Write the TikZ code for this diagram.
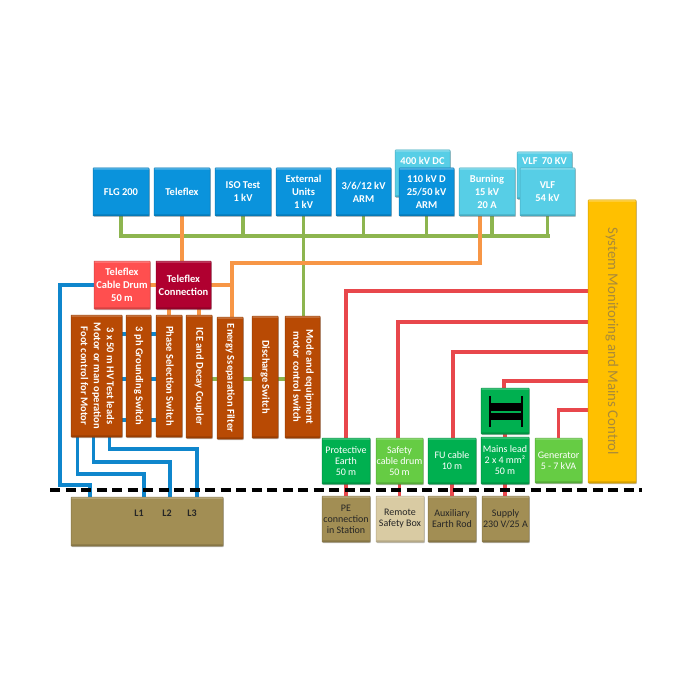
\documentclass[tikz,border=0pt]{standalone}
\usepackage{fontspec}
\usepackage{graphicx}
\setmainfont{Carlito}
\usetikzlibrary{shadows,backgrounds,calc}
\definecolor{cblue}{HTML}{0A93DC}
\definecolor{ccyan}{HTML}{57CEE6}
\definecolor{cbrown}{HTML}{B84A04}
\definecolor{cred}{HTML}{FF4F4F}
\definecolor{ccrim}{HTML}{B00030}
\definecolor{cyel}{HTML}{FFC000}
\definecolor{cgreen}{HTML}{00B050}
\definecolor{clime}{HTML}{66CC44}
\definecolor{colive}{HTML}{A28E54}
\definecolor{ctan}{HTML}{D9CBA3}
\definecolor{lgreen}{HTML}{8DB54F}
\definecolor{lorange}{HTML}{F79646}
\definecolor{lred}{HTML}{E8474C}
\definecolor{lcable}{HTML}{0F86CC}
\definecolor{csystxt}{HTML}{A98A3A}
\tikzset{
  bx/.style={draw=#1!82!black,line width=.5pt,fill=#1,rounded corners=.6pt,inner sep=0pt,align=center,
    drop shadow={shadow xshift=.8pt,shadow yshift=-1pt,opacity=.35,fill=black!70},
    path picture={
      \fill[white,opacity=.3] (path picture bounding box.north west) rectangle ([yshift=-1.6pt]path picture bounding box.north east);
      \fill[black,opacity=.16] (path picture bounding box.south west) rectangle ([yshift=1.6pt]path picture bounding box.south east);
    }},
  wtxt/.style={text=white,font=\bfseries\fontsize{10.5}{13}\selectfont},
  thintxt/.style={text=white,font=\fontsize{10}{11}\selectfont},
  darktxt/.style={text=black!85,font=\fontsize{10}{11}\selectfont},
  bluebox/.style={bx=cblue,wtxt},
  cyanbox/.style={bx=ccyan,wtxt},
  redbox/.style={bx=cred,wtxt},
  crimbox/.style={bx=ccrim,wtxt},
  brownbox/.style={bx=cbrown,wtxt},
  greenbox/.style={bx=cgreen,thintxt},
  limebox/.style={bx=clime,thintxt},
  olivebox/.style={bx=colive,darktxt},
  tanbox/.style={bx=ctan,darktxt},
  yelbox/.style={bx=cyel},
  portlabel/.style={font=\bfseries\fontsize{10}{11}\selectfont,text=black!85},
  wg/.style={draw=lgreen,line width=3.1pt,line cap=rect},
  wo/.style={draw=lorange,line width=3.1pt,line cap=rect},
  wr/.style={draw=lred,line width=3.1pt,line cap=rect},
  wb/.style={draw=lcable,line width=3.1pt,line cap=rect},
}
\newcommand\bx[7][]{%
  \pgfmathsetmacro\bxw{#5-#3}\pgfmathsetmacro\bxh{#6-#4}%
  \pgfmathsetmacro\bxcx{(#3+#5)/2}\pgfmathsetmacro\bxcy{(#4+#6)/2}%
  \node[#1,minimum width=\bxw pt,minimum height=\bxh pt] (#2) at (\bxcx,\bxcy) {#7};}
\newcommand\vtxt[1]{\rotatebox[origin=c]{-90}{\begin{tabular}{@{}c@{}}#1\end{tabular}}}
\begin{document}
\begin{tikzpicture}[x=1pt,y=-1pt]
\useasboundingbox (0,0) rectangle (700,700);
% rear boxes
\bx[cyanbox]{dc}{395}{150}{450}{197}{\raisebox{8.5pt}[0pt][0pt]{400 kV DC}}
\bx[cyanbox]{vlfs}{517}{152}{572}{199}{\raisebox{10.5pt}[0pt][0pt]{VLF\, 70 KV}}
% top row
\bx[bluebox]{flg}{93}{168}{149}{216}{FLG 200}
\bx[bluebox]{tele}{154}{168}{210}{216}{Teleflex}
\bx[bluebox]{iso}{215}{168}{271}{216}{ISO Test\\1 kV}
\bx[bluebox]{ext}{276}{168}{331}{216}{External\\Units\\1 kV}
\bx[bluebox]{arm}{336}{168}{391}{216}{3/6/12 kV\\ARM}
\bx[bluebox]{hv}{399}{168}{454}{216}{110 kV D\\25/50 kV\\ARM}
\bx[cyanbox]{burn}{459}{168}{515}{216}{Burning\\15 kV\\20 A}
\bx[cyanbox]{vlf}{520}{168}{575}{216}{VLF\\54 kV}
% second row
\bx[redbox]{drum}{94}{261}{150}{309}{Teleflex\\Cable Drum\\50 m}
\bx[crimbox]{conn}{156}{261}{211}{309}{Teleflex\\Connection}
% brown boxes
\bx[brownbox]{leads}{71}{315}{122}{437}{\vtxt{3 x 50 m HV Test leads\\Motor or man operation\\Foot control for Motor}}
\bx[brownbox]{gnd}{126}{315}{151}{437}{\vtxt{3 ph Grounding Switch}}
\bx[brownbox]{phase}{156}{315}{182}{437}{\vtxt{Phase Selection Switch}}
\bx[brownbox]{ice}{186}{315}{212}{438}{\vtxt{ICE and Decay Coupler}}
\bx[brownbox]{filt}{217}{317}{243}{439}{\vtxt{Energy Sseparation Filter}}
\bx[brownbox]{disc}{252}{316}{278}{438}{\vtxt{Discharge Switch}}
\bx[brownbox]{mode}{285}{316}{320}{438}{\vtxt{Mode and equipment\\motor control switch}}
% system
\bx[yelbox]{sys}{588}{200}{636}{483}{\rotatebox[origin=c]{-90}{\textcolor{csystxt}{\fontsize{14.8}{16}\selectfont System Monitoring and Mains Control}}}
% green row
\bx[greenbox]{pe}{322}{438}{370}{484}{Protective\\Earth\\50 m}
\bx[limebox]{safe}{376}{438}{423}{484}{Safety\\cable drum\\50 m}
\bx[greenbox]{fu}{428}{438}{476}{484}{FU cable\\10 m}
\bx[greenbox]{mains}{481}{437}{529}{484}{Mains lead\\2 x 4 mm²\\50 m}
\bx[limebox]{gen}{535}{438}{582}{483}{Generator\\5 - 7 kVA}
\bx[greenbox]{trafo}{481}{388}{529}{434}{}
% transformer symbol
\fill[black] (489,396) rectangle (490.8,427);
\fill[black] (521,396) rectangle (522.8,427);
\fill[black] (489,403) rectangle (522.8,411);
\fill[black] (489,413) rectangle (522.8,420);
% bottom row
\bx[olivebox]{main}{71}{497}{223}{546}{}
\node[portlabel] (l1) at (139,513) {L1};
\node[portlabel] (l2) at (167,513) {L2};
\node[portlabel] (l3) at (192,513) {L3};
\bx[olivebox]{station}{322}{496}{370}{542}{PE\\connection\\in Station}
\bx[tanbox]{rsb}{376}{496}{424}{542}{Remote\\Safety Box}
\bx[olivebox]{rod}{428}{496}{476}{542}{Auxiliary\\Earth Rod}
\bx[olivebox]{sup}{482}{496}{529}{542}{Supply\\230 V/25 A}
% junction coordinates
\coordinate (busL) at (121,236);
\coordinate (busR) at (548,236);
\coordinate (og) at (232,263);
\coordinate (blA) at (60,285);
\coordinate (blB) at (60,485);
\coordinate (blC) at (90,485);
\coordinate (r1) at (346,291);
\coordinate (r2) at (398,322);
\coordinate (r3) at (453,352);
\coordinate (r4) at (504,381);
\coordinate (r5) at (558,410);
\coordinate (dashL) at (50,490);
\coordinate (dashR) at (642,490);
\begin{scope}[on background layer]
% green
\draw[wg] (busL) -- (busR);
\draw[wg] (busL) -- (flg.south);
\draw[wg] (iso.south) -- (iso.south |- busL);
\draw[wg] (ext.south) -- (ext.south |- mode.north);
\draw[wg] (arm.south) -- (arm.south |- busL);
\draw[wg] (hv.south) -- (hv.south |- busL);
\draw[wg] ([xshift=5pt]burn.south) -- ([xshift=5pt]burn.south |- busL);
\draw[wg] (vlf.south) -- (vlf.south |- busR);
\draw[wg] (ice.east |- 0,379) -- (filt.west |- 0,379);
\draw[wg] (filt.east |- 0,379) -- (disc.west |- 0,379);
\draw[wg] (disc.east |- 0,379) -- (mode.west |- 0,379);
% orange
\draw[wo] (tele.south) -- (tele.south |- conn.north);
\draw[wo] (conn.east) -- (drum.east);
\draw[wo] ([xshift=-7pt]burn.south) -- ([xshift=-7pt]burn.south |- og) -- (og) -- (og |- filt.north);
\draw[wo] (conn.east) -- (conn.east -| og);
\draw[wo] (conn.south -| phase.north) -- (phase.north);
\draw[wo] (conn.south -| ice.north) -- (ice.north);
% blue
\draw[wb] (drum.west) -- (blA) -- (blB) -- (blC) -- (blC |- main.north);
\draw[wb] ([xshift=7pt]leads.south west) |- (144,474) -- (144,497);
\draw[wb] ([xshift=23pt]leads.south west) |- (170,462) -- (170,497);
\draw[wb] ([xshift=39pt]leads.south west) |- (197,449) -- (197,497);
\foreach \yy in {334,379,420}{
  \draw[wb] (leads.east |- 0,\yy) -- (gnd.west |- 0,\yy);
  \draw[wb] (gnd.east |- 0,\yy) -- (phase.west |- 0,\yy);
}
% red
\draw[wr] (pe.north) -- (r1) -- (sys.west |- r1);
\draw[wr] (safe.north -| r2) -- (r2) -- (sys.west |- r2);
\draw[wr] (fu.north -| r3) -- (r3) -- (sys.west |- r3);
\draw[wr] (trafo.north -| r4) -- (r4) -- (sys.west |- r4);
\draw[wr] (gen.north) -- (gen.north |- r5) -- (sys.west |- r5);
\draw[wr] (trafo.south) -- (mains.north);
\draw[wr] (pe.south) -- (station.north);
\draw[wr] (safe.south) -- (safe.south |- rsb.north);
\draw[wr] (fu.south) -- (fu.south |- rod.north);
\draw[wr] (mains.south) -- (mains.south |- sup.north);
\end{scope}
\draw[black,line width=3.4pt,dash pattern=on 10pt off 5.5pt] (dashL) -- (dashR);
\end{tikzpicture}
\end{document}
